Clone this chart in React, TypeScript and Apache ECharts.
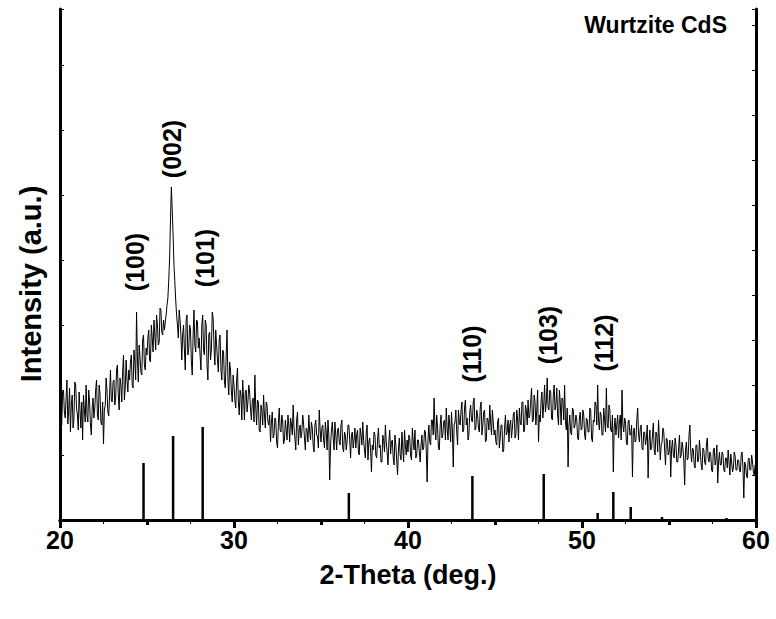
import React, { useEffect, useRef } from 'react';
import * as echarts from 'echarts';

// 2-Theta sampling grid of the measured pattern
const START_2THETA = 20;
const STEP_2THETA = 0.05;

const intensity: number[] = [
  118, 100, 95, 128, 130, 108, 102, 122, 140, 96, 110, 132, 88, 115, 125, 92, 100, 138, 135, 112,
  105, 90, 128, 110, 92, 118, 80, 125, 110, 98, 135, 105, 98, 130, 118, 95, 85, 112, 122, 102,
  112, 130, 140, 105, 100, 135, 126, 98, 95, 118, 76, 110, 115, 142, 130, 108, 104, 125, 150, 120,
  118, 138, 140, 115, 122, 150, 155, 125, 110, 142, 135, 118, 148, 165, 120, 132, 160, 140, 128, 150,
  140, 158, 165, 135, 132, 170, 158, 140, 208, 162, 138, 175, 162, 148, 145, 180, 185, 155, 150, 172,
  165, 182, 190, 160, 158, 195, 182, 168, 200, 185, 170, 205, 195, 175, 178, 212, 210, 188, 185, 200,
  190, 198, 205, 215, 222, 240, 262, 300, 333, 310, 285, 255, 238, 220, 205, 195, 182, 210, 200, 185,
  160, 185, 195, 170, 150, 200, 205, 165, 172, 195, 190, 158, 145, 185, 210, 175, 168, 200, 198, 172,
  182, 165, 150, 195, 205, 170, 165, 200, 195, 155, 140, 185, 188, 160, 170, 208, 202, 175, 155, 190,
  175, 160, 148, 180, 185, 150, 140, 170, 168, 138, 132, 165, 190, 140, 125, 158, 150, 128, 118, 145,
  135, 120, 112, 140, 152, 118, 105, 130, 125, 100, 140, 122, 100, 128, 130, 108, 118, 135, 128, 110,
  100, 118, 122, 98, 145, 112, 95, 120, 118, 90, 88, 115, 110, 95, 125, 105, 92, 118, 115, 98,
  95, 105, 78, 98, 108, 82, 85, 102, 100, 78, 72, 96, 112, 90, 88, 105, 98, 76, 80, 100,
  90, 80, 105, 95, 78, 102, 96, 85, 115, 92, 82, 70, 100, 108, 75, 90, 95, 82, 88, 105,
  96, 82, 70, 92, 90, 78, 105, 88, 80, 98, 92, 75, 68, 95, 100, 85, 84, 72, 110, 90,
  78, 92, 95, 80, 72, 98, 88, 70, 100, 85, 40, 75, 90, 98, 82, 70, 98, 85, 70, 90,
  92, 78, 75, 95, 100, 72, 68, 88, 85, 70, 78, 95, 95, 80, 62, 85, 88, 72, 80, 92,
  72, 85, 90, 68, 65, 92, 85, 75, 98, 80, 70, 62, 88, 95, 60, 78, 82, 70, 48, 75,
  70, 88, 85, 65, 62, 80, 92, 72, 75, 58, 58, 85, 80, 68, 95, 78, 68, 55, 78, 90,
  66, 78, 80, 62, 55, 85, 75, 60, 45, 70, 82, 65, 60, 88, 72, 58, 90, 75, 65, 80,
  68, 85, 82, 65, 60, 92, 78, 70, 90, 62, 65, 80, 80, 68, 58, 75, 85, 70, 72, 90,
  88, 70, 38, 80, 95, 78, 75, 100, 100, 85, 122, 90, 80, 105, 92, 72, 70, 95, 105, 82,
  85, 98, 100, 80, 112, 92, 80, 105, 95, 78, 108, 90, 53, 95, 98, 110, 88, 75, 110, 98,
  95, 110, 118, 88, 90, 112, 120, 95, 102, 80, 85, 108, 115, 100, 98, 118, 122, 90, 92, 110,
  105, 92, 88, 112, 118, 85, 95, 108, 110, 78, 80, 102, 100, 90, 115, 98, 85, 110, 98, 85,
  90, 78, 75, 98, 102, 72, 82, 95, 95, 68, 70, 92, 105, 85, 88, 100, 78, 95, 100, 82,
  92, 105, 108, 82, 85, 110, 100, 80, 112, 98, 95, 118, 118, 88, 90, 115, 110, 95, 120, 102,
  105, 118, 132, 98, 100, 125, 118, 95, 110, 130, 78, 105, 98, 120, 128, 102, 115, 135, 108, 118,
  142, 112, 110, 130, 128, 102, 100, 125, 135, 110, 115, 132, 105, 95, 130, 118, 95, 122, 120, 100,
  135, 98, 90, 112, 53, 95, 105, 88, 85, 112, 110, 92, 95, 105, 100, 82, 80, 102, 108, 90,
  92, 110, 105, 85, 80, 102, 100, 88, 88, 112, 110, 82, 78, 100, 98, 118, 115, 95, 135, 100,
  90, 108, 105, 85, 85, 112, 100, 88, 132, 95, 92, 115, 110, 90, 88, 105, 48, 92, 102, 85,
  95, 105, 82, 98, 105, 80, 130, 95, 88, 102, 98, 78, 75, 98, 100, 85, 85, 95, 43, 88,
  92, 78, 80, 100, 112, 85, 78, 92, 95, 72, 70, 88, 88, 75, 82, 95, 42, 78, 90, 70,
  72, 85, 97, 70, 65, 88, 85, 68, 100, 80, 60, 75, 78, 92, 88, 70, 55, 82, 80, 65,
  68, 80, 43, 72, 80, 65, 62, 82, 75, 58, 58, 70, 85, 62, 65, 78, 72, 60, 35, 70,
  78, 60, 62, 85, 95, 68, 58, 72, 70, 55, 52, 75, 75, 58, 60, 80, 68, 55, 50, 72,
  70, 58, 55, 75, 82, 62, 58, 68, 65, 50, 48, 70, 72, 55, 60, 75, 37, 58, 68, 55,
  55, 68, 66, 50, 48, 62, 62, 52, 70, 58, 45, 66, 58, 48, 52, 68, 64, 50, 50, 60,
  60, 50, 48, 65, 68, 52, 22, 58, 55, 45, 42, 60, 62, 50, 50, 65, 58, 48, 45, 55,
  52,
];

// Reference (standard) stick pattern of wurtzite CdS
const stickPositions = [24.8, 26.5, 28.2, 36.6, 43.7, 47.8, 50.9, 51.8, 52.8, 54.6, 58.3];
const stickHeights = [57, 84, 93, 27, 44, 46, 7, 28, 13, 3, 2];

// Peak (hkl) annotations
const peakNames = ['(100)', '(002)', '(101)', '(110)', '(103)', '(112)'];
const peakLabelX = [24.31, 26.44, 28.33, 43.68, 48.05, 51.26];
const peakLabelY = [258, 371, 262, 166, 185, 177];

const X_MIN = 20;
const X_MAX = 60;
const X_INTERVAL = 10;
const Y_MAX = 511;

const FONT = '"Liberation Sans", Arial, Helvetica, sans-serif';

export default function App() {
  const ref = useRef<HTMLDivElement>(null);

  useEffect(() => {
    document.body.style.margin = '0';
    if (!ref.current) return;
    const chart = echarts.init(ref.current, undefined, { renderer: 'svg' });

    const lineData = intensity.map((v, i) => [
      +(START_2THETA + i * STEP_2THETA).toFixed(2),
      v,
    ]);
    const stickData = stickPositions.map((p, i) => [p, stickHeights[i]]);
    const labelData = peakNames.map((n, i) => ({
      name: n,
      value: [peakLabelX[i], peakLabelY[i]],
    }));

    const axisLine = { show: true, lineStyle: { color: '#000', width: 3 } };

    chart.setOption({
      animation: false,
      backgroundColor: '#fff',
      grid: { left: 60, right: 20, top: 9, bottom: 99, containLabel: false },
      xAxis: [
        {
          type: 'value',
          position: 'bottom',
          min: X_MIN,
          max: X_MAX,
          interval: X_INTERVAL,
          axisLine,
          axisTick: { show: true, inside: false, length: 8, lineStyle: { color: '#000', width: 3 } },
          minorTick: { show: true, splitNumber: 2, length: 5, lineStyle: { color: '#000', width: 3 } },
          splitLine: { show: false },
          axisLabel: {
            color: '#000',
            fontSize: 25,
            fontWeight: 'bold',
            fontFamily: FONT,
            margin: 7,
          },
          name: '2-Theta (deg.)',
          nameLocation: 'middle',
          nameGap: 41,
          nameTextStyle: { color: '#000', fontSize: 27, fontWeight: 'bold', fontFamily: FONT },
        },
        {
          type: 'value',
          position: 'top',
          min: X_MIN,
          max: X_MAX,
          interval: 2.5,
          axisLine,
          axisTick: { show: true, inside: true, length: 4, lineStyle: { color: '#000', width: 1 } },
          axisLabel: { show: false },
          splitLine: { show: false },
        },
      ],
      yAxis: [
        {
          type: 'value',
          position: 'left',
          min: 0,
          max: Y_MAX,
          interval: 65,
          axisLine,
          axisTick: { show: true, inside: true, length: 4, lineStyle: { color: '#000', width: 1 } },
          axisLabel: { show: false },
          splitLine: { show: false },
        },
        {
          type: 'value',
          position: 'right',
          min: 0,
          max: Y_MAX,
          interval: 45,
          axisLine,
          axisTick: { show: true, inside: true, length: 4, lineStyle: { color: '#000', width: 1 } },
          axisLabel: { show: false },
          splitLine: { show: false },
        },
      ],
      graphic: [
        {
          type: 'text',
          right: 49,
          top: 13,
          style: {
            text: 'Wurtzite CdS',
            fill: '#000',
            font: `bold 23px ${FONT}`,
          },
        },
        {
          type: 'text',
          x: 31,
          y: 284,
          rotation: Math.PI / 2,
          style: {
            text: 'Intensity (a.u.)',
            fill: '#000',
            font: `bold 29px ${FONT}`,
            align: 'center',
            verticalAlign: 'middle',
          },
        },
      ],
      series: [
        {
          type: 'line',
          xAxisIndex: 0,
          yAxisIndex: 0,
          data: lineData,
          showSymbol: false,
          symbol: 'none',
          lineStyle: { color: '#000', width: 1 },
          silent: true,
          z: 3,
        },
        {
          type: 'bar',
          xAxisIndex: 0,
          yAxisIndex: 0,
          data: stickData,
          barWidth: 2.5,
          itemStyle: { color: '#000' },
          silent: true,
          z: 2,
        },
        {
          type: 'scatter',
          xAxisIndex: 0,
          yAxisIndex: 0,
          data: labelData,
          symbolSize: 0,
          silent: true,
          itemStyle: { opacity: 1 },
          label: {
            show: true,
            position: 'inside',
            rotate: 90,
            formatter: (p: any) => p.name,
            color: '#000',
            opacity: 1,
            textBorderWidth: 0,
            fontSize: 25,
            fontWeight: 'bold',
            fontFamily: FONT,
          },
          z: 4,
        },
      ],
    });

    return () => chart.dispose();
  }, []);

  return <div ref={ref} style={{ width: 776, height: 619 }} />;
}
